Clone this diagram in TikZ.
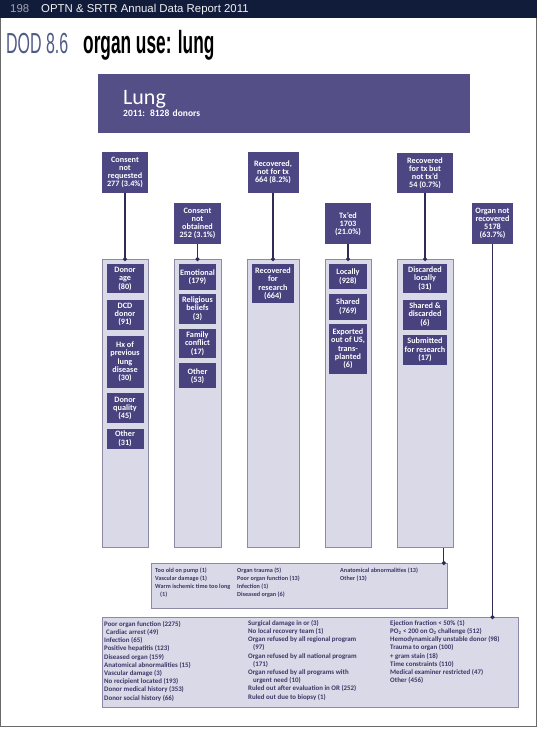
\documentclass[tikz,border=0pt]{standalone}
\usepackage{fontspec}
\setmainfont{Carlito}
\newfontfamily\headfont{Liberation Sans}
\usepackage{graphicx}
\usepackage{tikz}
\usetikzlibrary{arrows.meta,positioning}
\definecolor{HeadNavy}{HTML}{101C3A}
\definecolor{HeadGrey}{HTML}{A0A4B2}
\definecolor{HeadWhite}{HTML}{F2F2F4}
\definecolor{TitleSlate}{HTML}{4F5A87}
\definecolor{LungPurple}{HTML}{554F88}
\definecolor{BoxPurple}{HTML}{4C4683}
\definecolor{SubPurple}{HTML}{48427E}
\definecolor{ColFill}{HTML}{D9D9E7}
\definecolor{ColLine}{HTML}{8C8AA8}
\definecolor{LinkNavy}{HTML}{2F2B57}
\definecolor{ListText}{HTML}{3B3768}
\definecolor{FrameGrey}{HTML}{6A6A6A}
\newcommand{\catboxfont}{\bfseries\fontsize{8.2}{8}\selectfont}
\newcommand{\subboxfont}{\bfseries\fontsize{8.2}{8.3}\selectfont}
\newcommand{\listtextfont}{\bfseries\fontsize{6.9}{8.2}\selectfont}
\newcommand{\midtextfont}{\bfseries\fontsize{6.2}{7.9}\selectfont}

\begin{document}
\begin{tikzpicture}[x=1pt,y=-1pt,
node distance=5pt,
catbox/.style={fill=BoxPurple,text=white,font=\catboxfont,align=center,inner sep=1pt,anchor=north},
column/.style={fill=ColFill,draw=ColLine,line width=0.8pt,anchor=north,minimum height=288pt},
subbox/.style={fill=SubPurple,text=white,font=\subboxfont,align=center,inner sep=1pt},
listbox/.style={fill=ColFill,draw=ColLine,line width=0.8pt,anchor=north west},
listtext/.style={text=ListText,font=\listtextfont,align=left,anchor=north west,inner sep=0pt},
link/.style={-{Circle[length=4pt]},line width=1.2pt,draw=LinkNavy,shorten >=-2pt}
]
\useasboundingbox (0,0) rectangle (550,734);
\draw[FrameGrey,line width=0.6pt] (0.5,18) -- (0.5,726) -- (536,726) -- (536,18);

\node[fill=HeadNavy,minimum width=537pt,minimum height=18pt,inner sep=0pt,anchor=north west] (bar) at (0,0) {};
\node[anchor=west,inner sep=0pt,text=HeadWhite,font=\headfont\fontsize{11.4}{12}\selectfont] (report) at (10,9.5) {\textcolor{HeadGrey}{198}\hspace{12pt}OPTN \& SRTR Annual Data Report 2011};
\node[anchor=base west,inner sep=0pt,text=TitleSlate] (dod) at (6,53) {\scalebox{0.55}[1]{\headfont\fontsize{29}{30}\selectfont DOD 8.6}};
\node[anchor=base west,inner sep=0pt,text=black] (organ) at (83,53) {\scalebox{0.54}[1]{\headfont\bfseries\fontsize{32}{34}\selectfont organ use: lung}};

\node[fill=LungPurple,text=white,anchor=north west,align=left,text width=322pt,inner xsep=25pt,minimum height=59pt] (lung) at (98,74) {{\fontsize{22}{22}\selectfont Lung}\\{\bfseries\fontsize{9.5}{10}\selectfont 2011: 8128 donors}};

\node[catbox,minimum width=46pt,minimum height=41pt] (notreq) at (125,152) {Consent\\not\\requested\\277 (3.4\%)};
\node[catbox,minimum width=47pt,minimum height=41pt] (notobt) at (197.5,203) {Consent\\not\\obtained\\252 (3.1\%)};
\node[catbox,minimum width=51pt,minimum height=41pt] (recnotx) at (273,152) {Recovered,\\not for tx\\664 (8.2\%)};
\node[catbox,minimum width=46pt,minimum height=41pt] (txed) at (348,203) {Tx'ed\\1703\\(21.0\%)};
\node[catbox,minimum width=56pt,minimum height=40pt] (nottxd) at (425,153) {Recovered\\for tx but\\not tx'd\\54 (0.7\%)};
\node[catbox,minimum width=41pt,minimum height=41pt] (notrec) at (492.5,203) {Organ not\\recovered\\5178\\(63.7\%)};

\node[column,minimum width=46pt] (c1) at (125,259) {};
\node[column,minimum width=47pt] (c2) at (197.5,259) {};
\node[column,minimum width=52pt] (c3) at (273,259) {};
\node[column,minimum width=46pt] (c4) at (348,259) {};
\node[column,minimum width=56pt] (c5) at (425,259) {};

\node[subbox,minimum width=37pt,minimum height=29pt,below=5pt of c1.north] (age) {Donor\\age\\(80)};
\node[subbox,minimum width=37pt,minimum height=30pt,below=6pt of age] (dcd) {DCD\\donor\\(91)};
\node[subbox,minimum width=37pt,minimum height=52pt,below=6pt of dcd] (hx) {Hx of\\previous\\lung\\disease\\(30)};
\node[subbox,minimum width=37pt,minimum height=30pt,below=5pt of hx] (quality) {Donor\\quality\\(45)};
\node[subbox,minimum width=37pt,minimum height=20pt,below=5pt of quality] (otherc1) {Other\\(31)};

\node[subbox,minimum width=37pt,minimum height=26pt,below=5pt of c2.north] (emotional) {Emotional\\(179)};
\node[subbox,minimum width=37pt,minimum height=30pt,below=3pt of emotional] (religious) {Religious\\beliefs\\(3)};
\node[subbox,minimum width=37pt,minimum height=29pt,below=5pt of religious] (family) {Family\\conflict\\(17)};
\node[subbox,minimum width=37pt,minimum height=25pt,below=5pt of family] (otherc2) {Other\\(53)};

\node[subbox,minimum width=42pt,minimum height=39pt,below=5pt of c3.north] (forres) {Recovered\\for\\research\\(664)};

\node[subbox,minimum width=38pt,minimum height=25pt,below=5pt of c4.north] (locally) {Locally\\(928)};
\node[subbox,minimum width=38pt,minimum height=26pt,below=4pt of locally] (shared) {Shared\\(769)};
\node[subbox,minimum width=38pt,minimum height=50pt,below=4pt of shared] (exported) {Exported\\out of US,\\trans-\\planted\\(6)};

\node[subbox,minimum width=44pt,minimum height=29pt,below=5pt of c5.north] (discloc) {Discarded\\locally\\(31)};
\node[subbox,minimum width=44pt,minimum height=30pt,below=6pt of discloc] (shdisc) {Shared \&\\discarded\\(6)};
\node[subbox,minimum width=44pt,minimum height=30pt,below=5pt of shdisc] (submitted) {Submitted\\for research\\(17)};

\node[listbox,minimum width=296pt,minimum height=45pt] (mid) at (151,563) {};
\node[listtext,font=\midtextfont] (midA) at (155,568) {Too old on pump (1)\\Vascular damage (1)\\Warm ischemic time too long\\\hspace*{5pt}(1)};
\node[listtext,font=\midtextfont] (midB) at (237,568) {Organ trauma (5)\\Poor organ function (13)\\Infection (1)\\Diseased organ (6)};
\node[listtext,font=\midtextfont] (midC) at (340,568) {Anatomical abnormalities (13)\\Other (13)};

\node[listbox,minimum width=416pt,minimum height=90pt] (bottom) at (102,617) {};
\node[listtext] (botA) at (104,621) {Poor organ function (2275)\\\hspace*{2pt}Cardiac arrest (49)\\Infection (65)\\Positive hepatitis (123)\\Diseased organ (159)\\Anatomical abnormalities (15)\\Vascular damage (3)\\No recipient located (193)\\Donor medical history (353)\\Donor social history (66)};
\node[listtext] (botB) at (248,620) {Surgical damage in or (3)\\No local recovery team (1)\\Organ refused by all regional program\\\hspace*{5pt}(97)\\Organ refused by all national program\\\hspace*{5pt}(171)\\Organ refused by all programs with\\\hspace*{5pt}urgent need (10)\\Ruled out after evaluation in OR (252)\\Ruled out due to biopsy (1)};
\node[listtext] (botC) at (390,620) {Ejection fraction < 50\% (1)\\PO\textsubscript{2} < 200 on O\textsubscript{2} challenge (512)\\Hemodynamically unstable donor (98)\\Trauma to organ (100)\\+ gram stain (18)\\Time constraints (110)\\Medical examiner restricted (47)\\Other (456)};

\draw[link] (notreq.south) -- (c1.north);
\draw[link] (notobt.south) -- (c2.north);
\draw[link] (recnotx.south) -- (c3.north);
\draw[link] (txed.south) -- (c4.north);
\draw[link] (nottxd.south) -- (c5.north);
\coordinate (midin) at ([xshift=-4pt]mid.north east);
\draw[link] (c5.south -| midin) -- (midin);
\draw[link] (notrec.south) -- (notrec.south |- bottom.north);
\end{tikzpicture}
\end{document}
